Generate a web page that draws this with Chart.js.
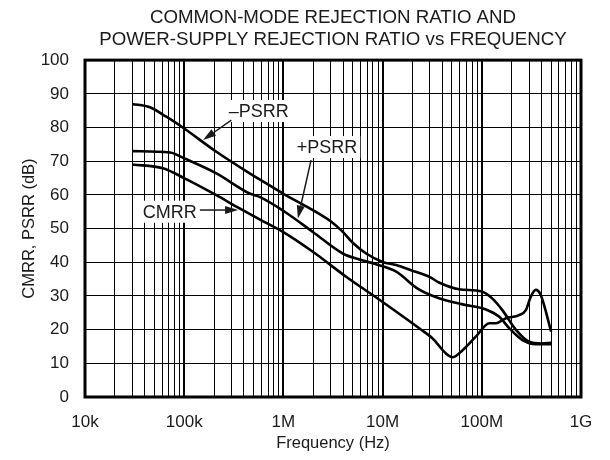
<!DOCTYPE html>
<html>
<head>
<meta charset="utf-8">
<script src="https://cdn.jsdelivr.net/npm/chart.js@4/dist/chart.umd.min.js"></script>
<style>
  html, body { margin: 0; padding: 0; background: #fff; }
  #wrap { width: 610px; height: 460px; }
</style>
</head>
<body>
<div id="wrap"><canvas id="myChart"></canvas></div>
<script>
// frequencies in Hz, values in dB
const minusFreq = [30e3, 45e3, 66e3, 100e3, 211e3, 457e3, 576e3, 1.03e6, 1.84e6, 3.04e6, 3.97e6, 5e6, 6.83e6, 10e6, 13.7e6, 20e6, 30e6, 37e6, 59e6, 100e6, 128e6, 161e6, 220e6, 300e6, 400e6, 500e6];
const minusDb   = [87, 86, 83.2, 79.7, 72.8, 66.4, 64.6, 60.1, 56, 52, 49, 45.8, 42.6, 40.1, 39.2, 37.5, 35.6, 34, 32, 31.3, 29.2, 25.8, 20, 16.4, 15.9, 16.1];

const plusFreq = [30e3, 72e3, 101e3, 211e3, 457e3, 576e3, 1.03e6, 1.98e6, 3.97e6, 5.85e6, 8.6e6, 13.7e6, 23e6, 37e6, 64e6, 110e6, 150e6, 189e6, 257e6, 350e6, 500e6];
const plusDb   = [73, 72.6, 70.8, 66.4, 60.4, 59.4, 55, 49, 42.6, 40.8, 39.4, 37.2, 32, 29.3, 27.5, 26, 23.8, 20.4, 16.9, 15.7, 15.7];

const cmrrFreq = [30e3, 61e3, 101e3, 211e3, 336e3, 576e3, 988e3, 1.98e6, 4.29e6, 10e6, 23.4e6, 31.9e6, 43.5e6, 50.7e6, 64e6, 87e6, 119e6, 139e6, 175e6, 238e6, 278e6, 312e6, 350e6, 393e6, 500e6];
const cmrrDb   = [69, 67.9, 64.9, 59.9, 56.5, 52.7, 49, 43.1, 35.7, 28.2, 20.4, 17.4, 12.9, 11.8, 13.9, 17.9, 21.9, 21.9, 23.4, 24.3, 25.8, 29.8, 31.8, 30.3, 19.4];

const decadeTicks  = [1e4, 1e5, 1e6, 1e7, 1e8, 1e9];
const decadeLabels = ['10k', '100k', '1M', '10M', '100M', '1G'];
const yTicks = [0, 10, 20, 30, 40, 50, 60, 70, 80, 90, 100];

// callouts: label position and arrow (tail -> tip), in Hz / dB
const callouts = [
  { text: '\u2013PSRR', x: 563e3, y: 84.9, from: [299e3, 82.2], to: [155e3, 76.3] },
  { text: '+PSRR', x: 2.75e6, y: 74.2, from: [1.9e6, 70.3], to: [1.4e6, 53.0] },
  { text: 'CMRR', x: 71.6e3, y: 55.0, from: [144e3, 55.5], to: [349e3, 55.5] }
];

const FONT = 'Liberation Sans, Arial, Helvetica, sans-serif';
const INK = '#1a1a1a';

// all vertical grid positions: 1..9 x each decade
const gridValues = [];
decadeTicks.forEach((d, i) => {
  if (i === decadeTicks.length - 1) { gridValues.push(d); return; }
  for (let k = 1; k < 10; k++) gridValues.push(d * k);
});

const isDecade = v => Math.abs(Math.log10(v) - Math.round(Math.log10(v))) < 1e-9;

function series(fr, db) {
  return fr.map((f, i) => ({ x: f, y: db[i] }));
}

const framePlugin = {
  id: 'frame',
  afterDraw(chart) {
    const { ctx, chartArea: a, scales } = chart;
    const xs = scales.x, ys = scales.y;
    ctx.save();
    // callouts
    ctx.font = '18px ' + FONT;
    ctx.textAlign = 'center';
    ctx.textBaseline = 'middle';
    callouts.forEach(c => {
      const px = xs.getPixelForValue(c.x), py = ys.getPixelForValue(c.y);
      const w = ctx.measureText(c.text).width;
      ctx.fillStyle = '#fff';
      ctx.fillRect(px - w / 2 - 3, py - 11, w + 6, 22);
      ctx.fillStyle = INK;
      ctx.fillText(c.text, px, py + 1);

      const x1 = xs.getPixelForValue(c.from[0]), y1 = ys.getPixelForValue(c.from[1]);
      const x2 = xs.getPixelForValue(c.to[0]), y2 = ys.getPixelForValue(c.to[1]);
      const ang = Math.atan2(y2 - y1, x2 - x1);
      const hl = 13, hw = 4;
      ctx.strokeStyle = INK;
      ctx.lineWidth = 1.5;
      ctx.beginPath();
      ctx.moveTo(x1, y1);
      ctx.lineTo(x2 - Math.cos(ang) * hl, y2 - Math.sin(ang) * hl);
      ctx.stroke();
      ctx.beginPath();
      ctx.moveTo(x2, y2);
      ctx.lineTo(x2 - Math.cos(ang) * hl - Math.sin(ang) * hw, y2 - Math.sin(ang) * hl + Math.cos(ang) * hw);
      ctx.lineTo(x2 - Math.cos(ang) * hl + Math.sin(ang) * hw, y2 - Math.sin(ang) * hl - Math.cos(ang) * hw);
      ctx.closePath();
      ctx.fillStyle = INK;
      ctx.fill();
    });
    // plot frame
    ctx.strokeStyle = '#000';
    ctx.lineWidth = 3;
    ctx.strokeRect(a.left, a.top, a.right - a.left, a.bottom - a.top);
    ctx.restore();
  }
};

const lineStyle = {
  borderColor: '#000',
  borderWidth: 2.6,
  pointRadius: 0,
  fill: false,
  cubicInterpolationMode: 'monotone'
};

const ctx = document.getElementById('myChart');

new Chart(ctx, {
  type: 'line',
  data: {
    datasets: [
      Object.assign({ label: '-PSRR', data: series(minusFreq, minusDb) }, lineStyle),
      Object.assign({ label: '+PSRR', data: series(plusFreq, plusDb) }, lineStyle),
      Object.assign({ label: 'CMRR', data: series(cmrrFreq, cmrrDb) }, lineStyle)
    ]
  },
  options: {
    responsive: true,
    maintainAspectRatio: false,
    animation: false,
    layout: { padding: { left: 0, right: 29, top: 0, bottom: 0 } },
    plugins: {
      legend: { display: false },
      tooltip: { enabled: false },
      title: {
        display: true,
        fullSize: false,
        text: ['COMMON-MODE REJECTION RATIO AND', 'POWER-SUPPLY REJECTION RATIO vs FREQUENCY'],
        color: INK,
        font: { family: FONT, size: 18.7, weight: 'normal', lineHeight: 1.18 },
        padding: { top: 7, bottom: 9 }
      }
    },
    scales: {
      x: {
        type: 'logarithmic',
        min: 1e4,
        max: 1e9,
        afterBuildTicks: s => { s.ticks = gridValues.map(v => ({ value: v })); },
        afterFit: s => { s.height = 63; },
        ticks: {
          autoSkip: false,
          maxRotation: 0,
          color: INK,
          padding: 15,
          font: { family: FONT, size: 17 },
          callback: v => isDecade(v) ? decadeLabels[Math.round(Math.log10(v)) - 4] : ''
        },
        grid: {
          color: '#000',
          drawTicks: false,
          lineWidth: c => (c.tick && isDecade(c.tick.value)) ? 2 : 1
        },
        border: { display: false },
        title: {
          display: true,
          text: 'Frequency (Hz)',
          color: INK,
          font: { family: FONT, size: 16.5 },
          padding: { top: 0, bottom: 7 }
        }
      },
      y: {
        min: 0,
        max: 100,
        afterBuildTicks: s => { s.ticks = yTicks.map(v => ({ value: v })); },
        afterFit: s => { s.width = 85; },
        ticks: {
          color: INK,
          padding: 16,
          font: { family: FONT, size: 17 }
        },
        grid: { color: '#000', lineWidth: 1, drawTicks: false },
        border: { display: false },
        title: {
          display: true,
          text: 'CMRR, PSRR (dB)',
          color: INK,
          font: { family: FONT, size: 16.5 },
          padding: { top: 20, bottom: 0 }
        }
      }
    }
  },
  plugins: [framePlugin]
});
</script>
</body>
</html>
